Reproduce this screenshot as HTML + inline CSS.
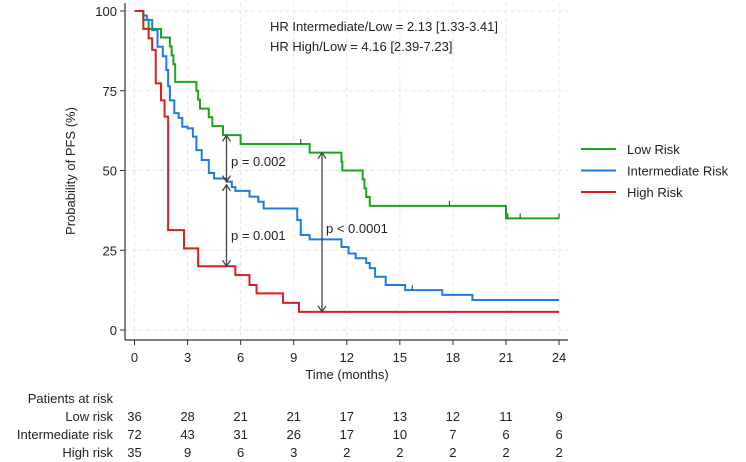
<!DOCTYPE html>
<html><head><meta charset="utf-8"><style>
html,body{margin:0;padding:0;background:#fff;}
svg{display:block;font-family:"Liberation Sans",Arial,sans-serif;}
</style></head><body>
<svg id="chart" width="746" height="462" viewBox="0 0 746 462"></svg>
<script>
const xTicks=[0,3,6,9,12,15,18,21,24];
const yTicks=[0,25,50,75,100];
const lowT=[0,0.5,0.8,1.5,2.0,2.1,2.2,2.3,3.5,3.6,3.7,4.2,4.4,5.0,6.0,9.9,11.7,11.75,12.9,13.0,13.1,13.3,14.3,21.0,24];
const lowS=[100,97.2,94.4,91.7,88.9,86.1,83.3,77.8,75,72.2,69.4,66.7,63.9,61.1,58.3,55.6,52.8,50,47.2,44.4,41.7,38.9,38.9,35,35];
const intT=[0,0.5,0.7,1.0,1.3,1.6,1.8,1.9,2.0,2.25,2.5,2.7,3.0,3.3,3.5,3.8,4.2,4.5,5.2,5.5,5.7,6.5,7.0,7.3,9.1,9.2,9.4,9.9,11.6,11.7,12.1,12.5,13.1,13.3,13.6,14.2,15.3,17.4,19.1,24];
const intS=[100,98.6,97.2,94,88.8,85.8,81.5,76.4,72,68,66.5,63.7,63.2,60.6,56.4,53.3,49.2,47.5,46.5,44.8,43.6,41.8,40.2,38.1,38.1,34.5,29.8,28.4,28.4,26,24,22.5,21,19.4,16.7,14.1,12.5,11,9.4,9.4];
const highT=[0,0.5,0.8,1.0,1.2,1.5,1.7,1.9,2.8,3.6,5.7,6.5,6.9,8.4,9.3,24];
const highS=[100,94.4,91.4,87.8,77.3,72,66.9,31.3,25.6,20,17.2,14.1,11.5,8.5,5.7,5.7];
const lowCens=[9.4,17.8,21.1,21.8,24];
const intCens=[15.7];
const riskLabels=["Low risk","Intermediate risk","High risk"];
const riskLow=[36,28,21,21,17,13,12,11,9];
const riskInt=[72,43,31,26,17,10,7,6,6];
const riskHigh=[35,9,6,3,2,2,2,2,2];

const NS="http://www.w3.org/2000/svg";
const svg=document.getElementById('chart');
const X=t=>134.5+t*17.69;
const Y=p=>330-p*3.19;
function mk(tag,attrs,parent,txt){const e=document.createElementNS(NS,tag);for(const k in attrs)e.setAttribute(k,attrs[k]);if(txt!==undefined)e.textContent=txt;(parent||svg).appendChild(e);return e;}

// grid
xTicks.forEach(t=>{const g=mk('line',{x1:X(t),x2:X(t),y1:3,y2:340,stroke:'#e6e6e6','stroke-dasharray':'4,3'});

});
yTicks.forEach(v=>{const g=mk('line',{x1:125,x2:568,y1:Y(v),y2:Y(v),stroke:'#e6e6e6','stroke-dasharray':'4,3'});

});
// axes
let a=mk('line',{x1:125,x2:125,y1:3,y2:340,stroke:'#333','stroke-width':1.2});


a=mk('line',{x1:125,x2:568,y1:340,y2:340,stroke:'#333','stroke-width':1.2});


yTicks.forEach(v=>{mk('line',{x1:120,x2:125,y1:Y(v),y2:Y(v),stroke:'#333'});
const t=mk('text',{x:117,y:Y(v)+5,'text-anchor':'end','font-size':13,fill:'#222'},svg,v);

});
xTicks.forEach(v=>{mk('line',{x1:X(v),x2:X(v),y1:340,y2:345,stroke:'#333'});
const t=mk('text',{x:X(v),y:362,'text-anchor':'middle','font-size':13,fill:'#222'},svg,v);

});
let tt=mk('text',{x:347,y:379,'text-anchor':'middle','font-size':13,fill:'#222'},svg,'Time (months)');


tt=mk('text',{x:0,y:0,'text-anchor':'middle','font-size':13,fill:'#222',transform:'translate(75,171) rotate(-90)'},svg,'Probability of PFS (%)');



function stepPath(T,S){let d='M'+X(T[0])+','+Y(S[0]);for(let i=1;i<T.length;i++){d+=' H'+X(T[i])+' V'+Y(S[i]);}return d;}
const series=[[lowT,lowS,'#1aa51a','low-risk-curve'],[intT,intS,'#1e7be0','intermediate-risk-curve'],[highT,highS,'#d81e1e','high-risk-curve']];
series.forEach(s=>{const p=mk('path',{d:stepPath(s[0],s[1]),fill:'none',stroke:s[2],'stroke-width':2});

});
function survAt(T,S,t){let v=S[0];for(let i=0;i<T.length;i++){if(T[i]<=t)v=S[i];}return v;}
lowCens.forEach(t=>{const c=mk('line',{x1:X(t),x2:X(t),y1:Y(survAt(lowT,lowS,t)),y2:Y(survAt(lowT,lowS,t))-5,stroke:'#333'});

});
intCens.forEach(t=>{const c=mk('line',{x1:X(t),x2:X(t),y1:Y(survAt(intT,intS,t)),y2:Y(survAt(intT,intS,t))-5,stroke:'#333'});

});

// arrows
function arrow(t,p1,p2,label,lx,ly,name){const x=X(t),y1=Y(p1),y2=Y(p2);
const g=mk('g',{});


mk('line',{x1:x,x2:x,y1:y1,y2:y2,stroke:'#444','stroke-width':1.3},g);
mk('path',{d:`M${x-4},${y1+6} L${x},${y1} L${x+4},${y1+6} M${x-4},${y2-6} L${x},${y2} L${x+4},${y2-6}`,fill:'none',stroke:'#444','stroke-width':1.3},g);
mk('text',{x:lx,y:ly,'font-size':13,fill:'#222'},g,label);}
arrow(5.2,61,46.5,'p = 0.002',231,166,'arrow-p-low-int');
arrow(5.2,45.5,20,'p = 0.001',231,240,'arrow-p-int-high');
arrow(10.6,55.6,5.7,'p < 0.0001',326,233,'arrow-p-low-high');

tt=mk('text',{x:270,y:31,'font-size':13,fill:'#222'},svg,'HR Intermediate/Low = 2.13 [1.33-3.41]');


tt=mk('text',{x:270,y:51,'font-size':13,fill:'#222'},svg,'HR High/Low = 4.16 [2.39-7.23]');



// legend
const legNames=['Low Risk','Intermediate Risk','High Risk'];
const legCols=['#1aa51a','#1e7be0','#d81e1e'];
legNames.forEach((n,i)=>{const g=mk('g',{});


const y=149+i*21.5;
mk('line',{x1:581,x2:616,y1:y,y2:y,stroke:legCols[i],'stroke-width':2},g);
mk('text',{x:627,y:y+5,'font-size':13,fill:'#222'},g,n);});

// risk table
tt=mk('text',{x:113,y:403,'text-anchor':'end','font-size':13,fill:'#222'},svg,'Patients at risk');


[riskLow,riskInt,riskHigh].forEach((row,r)=>{const y=421+r*18;
const l=mk('text',{x:113,y:y,'text-anchor':'end','font-size':13,fill:'#222'},svg,riskLabels[r]);


row.forEach((v,i)=>{const c=mk('text',{x:X(xTicks[i]),y:y,'text-anchor':'middle','font-size':13,fill:'#222'},svg,v);

});});
</script>
</body></html>
